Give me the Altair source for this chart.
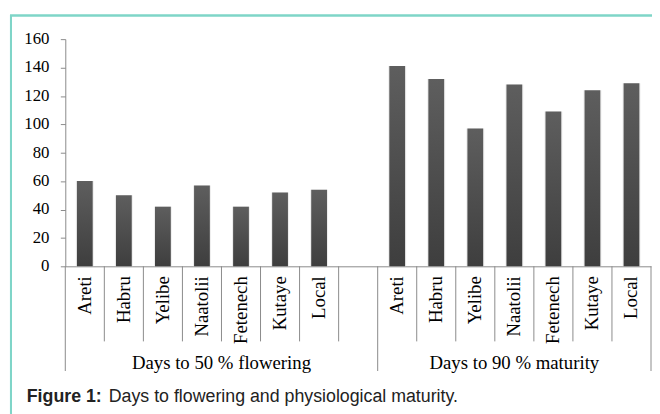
import altair as alt
import pandas as pd

varieties = ["Areti", "Habru", "Yelibe", "Naatolii", "Fetenech", "Kutaye", "Local"]
flowering = [60, 50, 42, 57, 42, 52, 54]
maturity = [141, 132, 97, 128, 109, 124, 129]
groups = ["Days to 50 % flowering", "Days to 90 % maturity"]
y_ticks = [0, 20, 40, 60, 80, 100, 120, 140, 160]
caption_bold = "Figure 1:"
caption_rest = "Days to flowering and physiological maturity."

# slot layout: 7 flowering slots, 1 empty slot, 7 maturity slots
rows = []
for i, (v, val) in enumerate(zip(varieties, flowering)):
    rows.append({"variety": v, "value": val, "slot": i, "group": groups[0]})
for i, (v, val) in enumerate(zip(varieties, maturity)):
    rows.append({"variety": v, "value": val, "slot": 8 + i, "group": groups[1]})
df = pd.DataFrame(rows)
df["x0"] = df["slot"] + 0.298
df["x1"] = df["slot"] + 0.702
df["xc"] = df["slot"] + 0.5
df["sx0"] = df["slot"] + 0.27
df["sx1"] = df["slot"] + 0.73

n_slots = 15
short_b = pd.DataFrame({"b": [b for b in range(1, n_slots) if b != 8]})
long_b = pd.DataFrame({"b": [0, 8, n_slots]})
grp_df = pd.DataFrame({"group": groups, "xc": [4.0, 11.5]})
tick_df = pd.DataFrame({"t": y_ticks})

xscale = alt.Scale(domain=[0, n_slots], nice=False, zero=False)
yscale = alt.Scale(domain=[0, 160], nice=False)

x_axis = alt.Axis(labels=False, ticks=False, grid=False, title=None,
                  domainColor="#8a8a8a", domainWidth=1)
y_axis = alt.Axis(values=y_ticks, title=None, grid=False, labels=False,
                  tickSize=5, tickColor="#8a8a8a", domainColor="#8a8a8a")

grad = alt.Gradient(
    gradient="linear",
    stops=[alt.GradientStop(color="#5e5e5e", offset=0),
           alt.GradientStop(color="#3e3e3e", offset=1)],
    x1=0, x2=0, y1=0, y2=1,
)

base = alt.Chart(df)

shadow = base.mark_bar(color="#d8d8d8", opacity=0.45).encode(
    x=alt.X("sx0:Q", scale=xscale, axis=x_axis),
    x2="sx1:Q",
    y=alt.Y("value:Q", scale=yscale, axis=y_axis),
    y2=alt.datum(0),
)

bars = base.mark_bar(color=grad).encode(
    x=alt.X("x0:Q", scale=xscale, axis=x_axis),
    x2="x1:Q",
    y=alt.Y("value:Q", scale=yscale, axis=y_axis),
    y2=alt.datum(0),
)

# y tick labels, positioned through the y scale
ylabels = alt.Chart(tick_df).mark_text(align="right", baseline="middle",
                                       font="Liberation Serif", fontSize=17,
                                       color="#000000").encode(
    x=alt.value(-16),
    y=alt.Y("t:Q", scale=yscale, axis=y_axis),
    text=alt.Text("t:Q"),
)

short_rules = alt.Chart(short_b).mark_rule(color="#8a8a8a", strokeWidth=1).encode(
    x=alt.X("b:Q", scale=xscale, axis=x_axis), y=alt.value(230), y2=alt.value(306)
)
long_rules = alt.Chart(long_b).mark_rule(color="#8a8a8a", strokeWidth=1).encode(
    x=alt.X("b:Q", scale=xscale, axis=x_axis), y=alt.value(230), y2=alt.value(336)
)

labels = base.mark_text(angle=270, align="right", baseline="middle",
                        font="Liberation Serif", fontSize=19, color="#000000").encode(
    x=alt.X("xc:Q", scale=xscale, axis=x_axis), y=alt.value(240), text="variety:N"
)

grp_labels = alt.Chart(grp_df).mark_text(align="center", baseline="middle",
                                         font="Liberation Serif", fontSize=19,
                                         color="#000000").encode(
    x=alt.X("xc:Q", scale=xscale, axis=x_axis), y=alt.value(328), text="group:N"
)

border_left = alt.Chart(grp_df).mark_rule(color="#7fd5c8", strokeWidth=2).encode(
    x=alt.value(-55), y=alt.value(-24), y2=alt.value(380)
)
border_top = alt.Chart(grp_df).mark_rule(color="#7fd5c8", strokeWidth=2).encode(
    x=alt.value(-56), x2=alt.value(600), y=alt.value(-24)
)

cap_df = pd.DataFrame({"bold": [caption_bold], "rest": [caption_rest]})
cap_bold = alt.Chart(cap_df).mark_text(align="left", baseline="alphabetic",
                                       font="Liberation Sans", fontSize=18,
                                       fontWeight="bold", color="#222222").encode(
    x=alt.value(-39), y=alt.value(367), text="bold:N"
)
cap_rest = alt.Chart(cap_df).mark_text(align="left", baseline="alphabetic",
                                       font="Liberation Sans", fontSize=18,
                                       color="#222222").encode(
    x=alt.value(44), y=alt.value(367), text="rest:N"
)

chart = alt.layer(
    shadow, bars, ylabels, short_rules, long_rules, labels, grp_labels,
    border_left, border_top, cap_bold, cap_rest
).properties(
    width=593, height=230,
    padding={"left": 58, "top": 29, "right": 1, "bottom": 147},
    autosize=alt.AutoSizeParams(type="none"),
    background="#ffffff",
).configure_view(stroke=None)

chart.save("out.html", embed_options={"renderer": "svg", "actions": False})
